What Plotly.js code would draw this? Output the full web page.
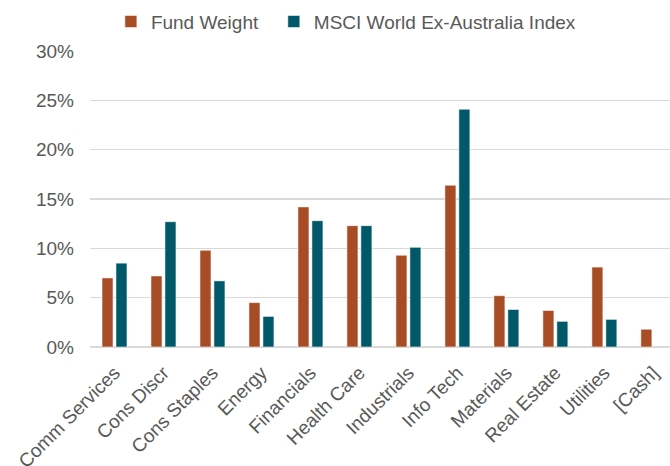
<!DOCTYPE html>
<html>
<head>
<meta charset="utf-8">
<script src="https://cdn.plot.ly/plotly-3.0.1.min.js"></script>
<style>html,body{margin:0;padding:0;background:#fff;}#chart{width:670px;height:466px;}</style>
</head>
<body>
<div id="chart"></div>
<script>
var categories = ["Comm Services", "Cons Discr", "Cons Staples", "Energy", "Financials", "Health Care", "Industrials", "Info Tech", "Materials", "Real Estate", "Utilities", "[Cash]"];
var fundWeight = [7.0, 7.2, 9.8, 4.5, 14.2, 12.3, 9.3, 16.4, 5.2, 3.7, 8.1, 1.8];
var msciIndex = [8.5, 12.7, 6.7, 3.1, 12.8, 12.3, 10.1, 24.1, 3.8, 2.6, 2.8, null];
var yTickVals = [0, 5, 10, 15, 20, 25, 30];
var yTickText = ["0%", "5%", "10%", "15%", "20%", "25%", "30%"];
var seriesNames = ["Fund Weight", "MSCI World Ex-Australia Index"];

var textColor = "#595959";
var traces = [
  {type: "bar", name: seriesNames[0] + "\u00a0\u00a0", x: categories, y: fundWeight,
   marker: {color: "#A84C25", line: {color: "rgba(255,255,255,0.55)", width: 1}},
   hoverinfo: "x+y"},
  {type: "bar", name: seriesNames[1], x: categories, y: msciIndex,
   marker: {color: "#005868", line: {color: "rgba(255,255,255,0.55)", width: 1}},
   hoverinfo: "x+y"}
];
var layout = {
  width: 670, height: 466,
  margin: {l: 89.5, r: 0, t: 50.6, b: 118.7, pad: 0},
  paper_bgcolor: "#fff", plot_bgcolor: "#fff",
  font: {family: "Liberation Sans, Arial, sans-serif", size: 19, color: textColor},
  barmode: "group", bargap: 0.43, bargroupgap: 0.21,
  showlegend: true,
  legend: {orientation: "h", x: 0.036, xanchor: "left", y: 1.035, yanchor: "bottom",
           font: {size: 19, color: textColor}, itemwidth: 30, tracegroupgap: 0,
           itemclick: false, bgcolor: "rgba(0,0,0,0)"},
  xaxis: {type: "category", range: [-0.5, 11.34], tickangle: -45, showgrid: false,
          zeroline: false, showline: false, ticks: "", fixedrange: true,
          ticklabelstandoff: 10,
          tickfont: {size: 19, color: textColor}},
  yaxis: {range: [0, 30], tickvals: yTickVals, ticktext: yTickText,
          showgrid: true, gridcolor: "#d9d9d9", gridwidth: 1.3,
          zeroline: true, zerolinecolor: "#d9d9d9", zerolinewidth: 1.5,
          showline: false, ticks: "", ticklabelstandoff: 15, fixedrange: true,
          tickfont: {size: 19, color: textColor}}
};
Plotly.newPlot("chart", traces, layout, {displayModeBar: false, staticPlot: true});
</script>
</body>
</html>
